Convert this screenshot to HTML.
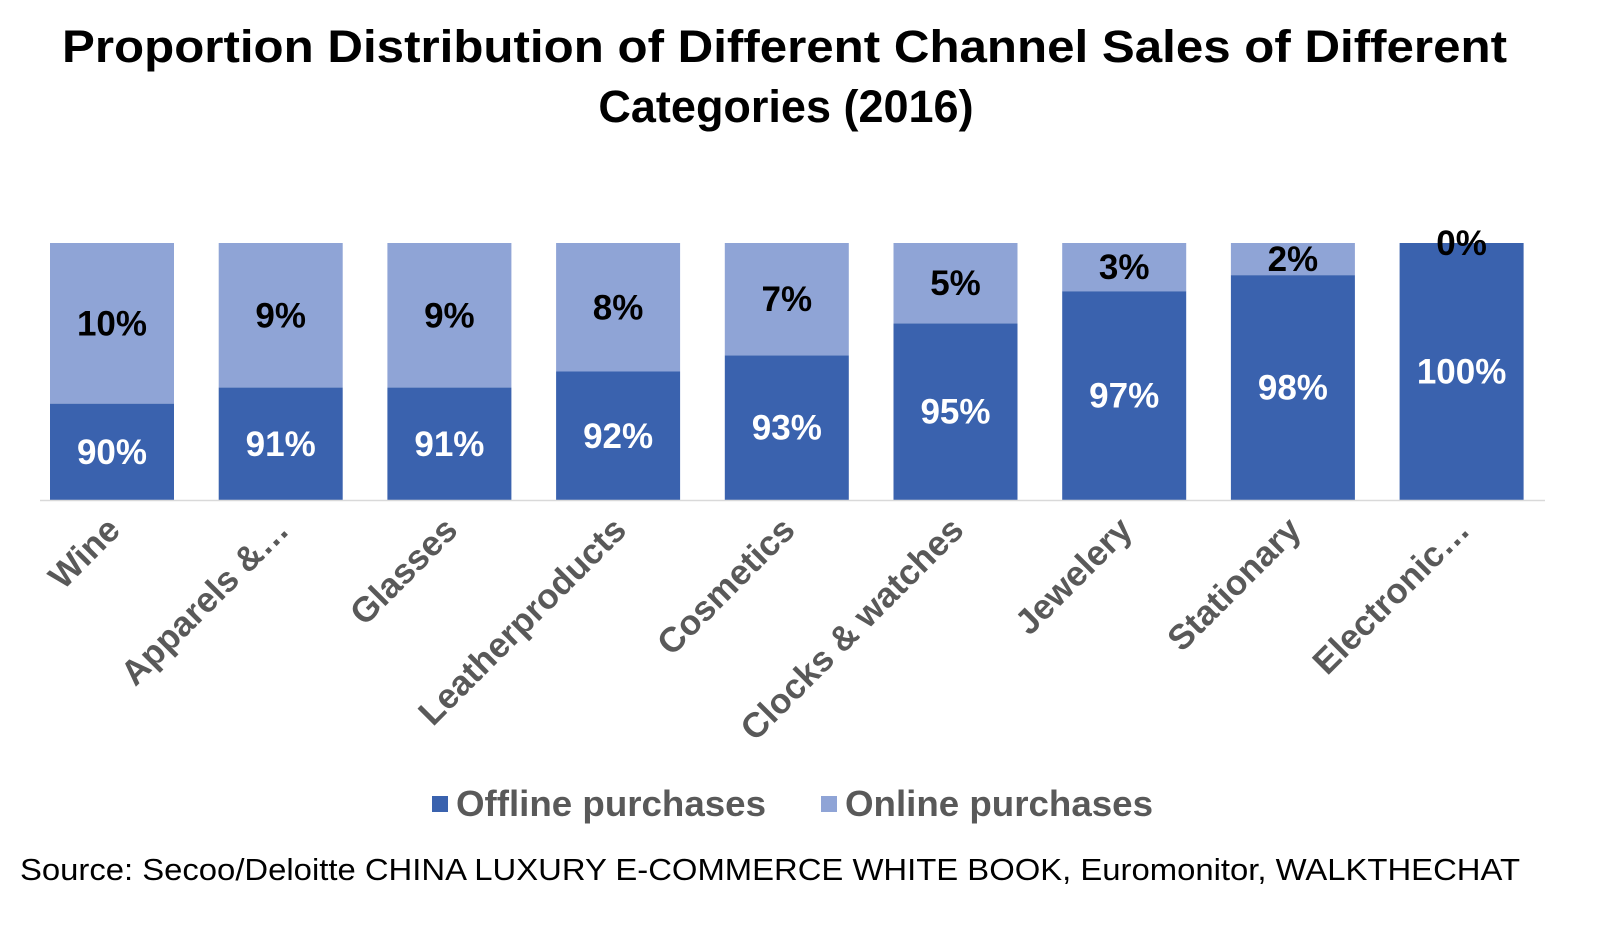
<!DOCTYPE html>
<html><head><meta charset="utf-8"><style>
body{margin:0;background:#fff;font-family:"Liberation Sans",Arial,sans-serif;}
</style></head><body>
<svg width="1597" height="924" xmlns="http://www.w3.org/2000/svg" id="chart" font-family="Liberation Sans, Arial, sans-serif">
<text x="62" y="62" textLength="1445" lengthAdjust="spacingAndGlyphs" font-size="45" font-weight="bold">Proportion Distribution of Different Channel Sales of Different</text>
<text x="786" y="122" text-anchor="middle" font-size="45" font-weight="bold">Categories (2016)</text>
<g id="bars"></g>
<line x1="40" y1="500.5" x2="1545" y2="500.5" stroke="#d9d9d9" stroke-width="1.5"/>
<rect x="432" y="796" width="16" height="16" fill="#3a62ae"/>
<text x="456" y="816" textLength="310" lengthAdjust="spacingAndGlyphs" font-size="36" font-weight="bold" fill="#595959">Offline purchases</text>
<rect x="821" y="796" width="16" height="16" fill="#8fa4d6"/>
<text x="845" y="816" textLength="308" lengthAdjust="spacingAndGlyphs" font-size="36" font-weight="bold" fill="#595959">Online purchases</text>
<text x="20" y="880" textLength="1500" lengthAdjust="spacingAndGlyphs" font-size="31">Source: Secoo/Deloitte  CHINA LUXURY E-COMMERCE WHITE BOOK, Euromonitor,  WALKTHECHAT</text>
</svg>
<script>
const categories=["Wine","Apparels &…","Glasses","Leatherproducts","Cosmetics","Clocks & watches","Jewelery","Stationary","Electronic…"];
const offline=[90,91,91,92,93,95,97,98,100];
const online=[10,9,9,8,7,5,3,2,0];
const yMin=84,yMax=100,yTop=243,yBase=500;
function y(v){return yBase-(v-yMin)/(yMax-yMin)*(yBase-yTop);}
function xc(i){return 112+i*168.7;}
const bw=124,ns="http://www.w3.org/2000/svg";
const g=document.getElementById('bars');
function mk(tag,attrs){const e=document.createElementNS(ns,tag);for(const k in attrs)e.setAttribute(k,attrs[k]);g.appendChild(e);return e;}
categories.forEach((c,i)=>{
  const x=xc(i)-bw/2;
  const yo=y(offline[i]),yt=y(offline[i]+online[i]);
  const r1=mk('rect',{x:x,y:yo,width:bw,height:yBase-yo,fill:'#3a62ae'});
  
  
  const r2=mk('rect',{x:x,y:yt,width:bw,height:Math.max(0,yo-yt),fill:'#8fa4d6'});
  
  
  const t1=mk('text',{x:xc(i),y:(yo+yBase)/2+12,'text-anchor':'middle','font-size':35,'font-weight':'bold',fill:'#fff'});
  t1.textContent=offline[i]+'%';
  
  
  const t2=mk('text',{x:xc(i),y:(yt+yo)/2+12,'text-anchor':'middle','font-size':35,'font-weight':'bold',fill:'#000'});
  t2.textContent=online[i]+'%';
  
  
  const tc=mk('text',{x:0,y:0,'text-anchor':'end','font-size':35,'font-weight':'bold',fill:'#595959',transform:'translate('+(xc(i)+10)+',532) rotate(-45)'});
  tc.textContent=c;
  
  
});
</script>
</body></html>
